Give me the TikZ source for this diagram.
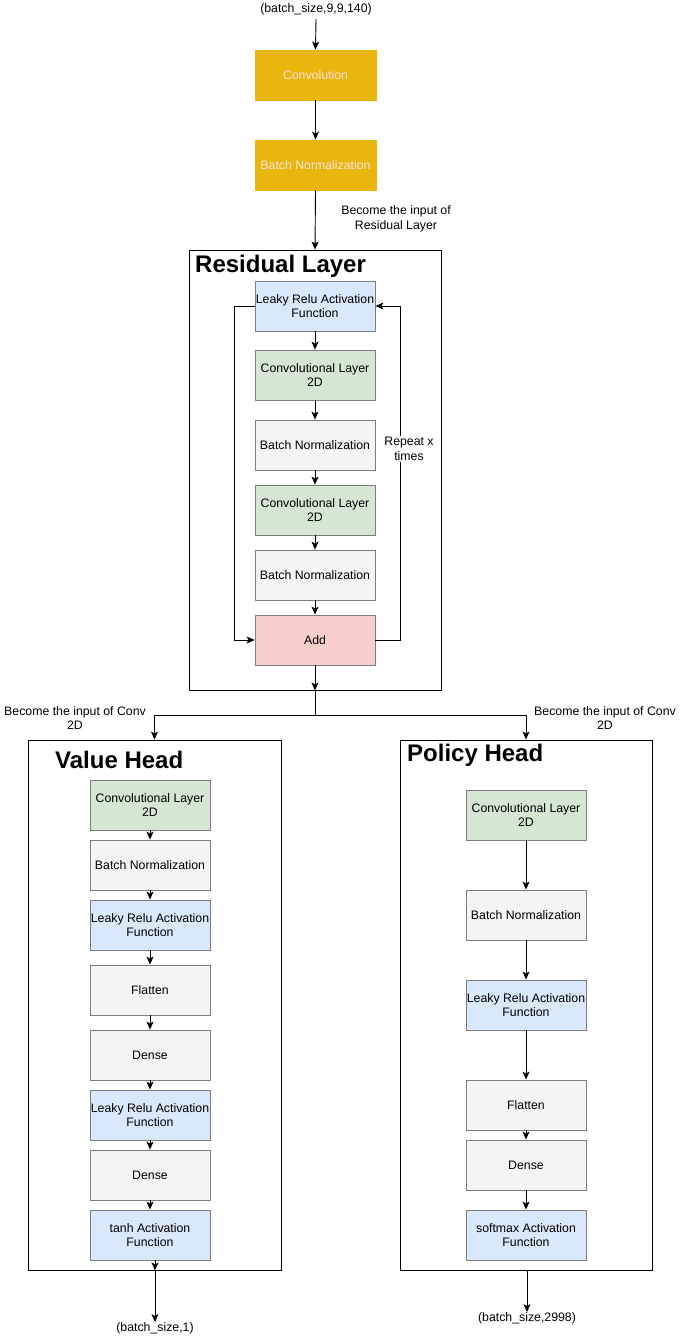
\documentclass[tikz,border=0pt]{standalone}
\usepackage{fontspec}
\setmainfont{Liberation Sans}
\usetikzlibrary{arrows.meta}
\definecolor{goldfill}{RGB}{233,182,13}
\definecolor{goldtext}{RGB}{255,225,225}
\definecolor{bluefill}{RGB}{218,232,252}
\definecolor{greenfill}{RGB}{213,230,211}
\definecolor{greyfill}{RGB}{244,244,246}
\definecolor{redfill}{RGB}{248,206,204}
\definecolor{boxline}{RGB}{125,125,125}
\tikzset{
  lbl/.style={font=\fontsize{12.3}{14.5}\selectfont, align=center, inner sep=0pt},
  layer/.style={draw=boxline, line width=0.8pt, minimum width=120pt, minimum height=50pt, inner sep=0pt, align=center, font=\fontsize{12.3}{14.5}\selectfont},
  goldbox/.style={layer, fill=goldfill, draw=goldfill, text=goldtext, minimum width=121pt},
  bluebox/.style={layer, fill=bluefill},
  greenbox/.style={layer, fill=greenfill},
  greybox/.style={layer, fill=greyfill},
  redbox/.style={layer, fill=redfill},
  container/.style={draw=black, line width=0.9pt, fill=white, inner sep=0pt},
  title/.style={font=\fontsize{24}{27}\selectfont\bfseries, anchor=west, inner sep=0pt},
  arr/.style={draw=black, line width=0.9pt, -{Stealth[length=8pt,width=7pt,inset=2pt]}},
  ln/.style={draw=black, line width=0.9pt}
}
\begin{document}
\begin{tikzpicture}[x=1pt,y=-1pt]
\useasboundingbox (0,0) rectangle (681,1341);
\fill[white] (0,0) rectangle (681,1341);

% top
\node[lbl] (in) at (316,9) {(batch\_size,9,9,140)};
\node[goldbox] (conv) at (315.5,75) {Convolution};
\node[goldbox] (bn0) at (315.5,165) {Batch Normalization};
\node[lbl] (lblres) at (396,219) {Become the input of\\Residual Layer};

% residual container
\node[container, minimum width=252pt, minimum height=440pt] (res) at (315,470) {};
\node[title] (restitle) at (195,266) {Residual Layer};
\node[bluebox] (rl) at (315,306) {Leaky Relu Activation\\Function};
\node[greenbox] (rc1) at (315,375) {Convolutional Layer\\2D};
\node[greybox] (rb1) at (315,445) {Batch Normalization};
\node[greenbox] (rc2) at (315,510) {Convolutional Layer\\2D};
\node[greybox] (rb2) at (315,575) {Batch Normalization};
\node[redbox] (add) at (315,640) {Add};

% arrows top
\draw[arr] (in.south) ++(0,4) -- (conv.north);
\draw[arr] (conv.south) -- (bn0.north);
\draw[arr] (bn0.south) -- (res.north);
\draw[arr] (rl) -- (rc1);
\draw[arr] (rc1) -- (rb1);
\draw[arr] (rb1) -- (rc2);
\draw[arr] (rc2) -- (rb2);
\draw[arr] (rb2) -- (add);
\draw[arr] (rl.west) -- ++(-20,0) |- (add.west);
\draw[arr] (add.east) -- ++(25,0) |- (rl.east);
\draw[arr] (add.south) -- (res.south);
\node[lbl, fill=white, inner sep=1pt] (rep) at (409,449) {Repeat x\\times};

% split
\coordinate (split) at (315,715);
\node[container, minimum width=253pt, minimum height=530pt] (vh) at (154.5,1005) {};
\node[container, minimum width=252pt, minimum height=530pt] (ph) at (526,1005) {};
\draw[ln] (res.south) -- (split);
\draw[arr] (split) -| (vh.north);
\draw[arr] (split) -| (ph.north);
\node[lbl] (lblv) at (75,718) {Become the input of Conv\\2D};
\node[lbl] (lblp) at (605,718) {Become the input of Conv\\2D};

% value head
\node[title] (vtitle) at (55,760) {Value Head};
\node[greenbox] (v1) at (150,805) {Convolutional Layer\\2D};
\node[greybox] (v2) at (150,865) {Batch Normalization};
\node[bluebox] (v3) at (150,925) {Leaky Relu Activation\\Function};
\node[greybox] (v4) at (150,990) {Flatten};
\node[greybox] (v5) at (150,1055) {Dense};
\node[bluebox] (v6) at (150,1115) {Leaky Relu Activation\\Function};
\node[greybox] (v7) at (150,1175) {Dense};
\node[bluebox] (v8) at (150,1235) {tanh Activation\\Function};
\draw[arr] (v1) -- (v2);
\draw[arr] (v2) -- (v3);
\draw[arr] (v3) -- (v4);
\draw[arr] (v4) -- (v5);
\draw[arr] (v5) -- (v6);
\draw[arr] (v6) -- (v7);
\draw[arr] (v7) -- (v8);
\node[lbl] (vout) at (155,1328) {(batch\_size,1)};
\coordinate (vtop) at (vout |- v8.south);
\coordinate (vbot) at (vout |- vh.south);
\draw[arr] (vtop) -- (vbot);
\draw[arr] (vbot) -- (vout.north);

% policy head
\node[title] (ptitle) at (407,755) {Policy Head};
\node[greenbox] (p1) at (526,815) {Convolutional Layer\\2D};
\node[greybox] (p2) at (526,915) {Batch Normalization};
\node[bluebox] (p3) at (526,1005) {Leaky Relu Activation\\Function};
\node[greybox] (p4) at (526,1105) {Flatten};
\node[greybox] (p5) at (526,1165) {Dense};
\node[bluebox] (p6) at (526,1235) {softmax Activation\\Function};
\draw[arr] (p1) -- (p2);
\draw[arr] (p2) -- (p3);
\draw[arr] (p3) -- (p4);
\draw[arr] (p4) -- (p5);
\draw[arr] (p5) -- (p6);
\node[lbl] (pout) at (527,1318) {(batch\_size,2998)};
\draw[arr] (ph.south -| pout) -- (pout.north);
\end{tikzpicture}
\end{document}
